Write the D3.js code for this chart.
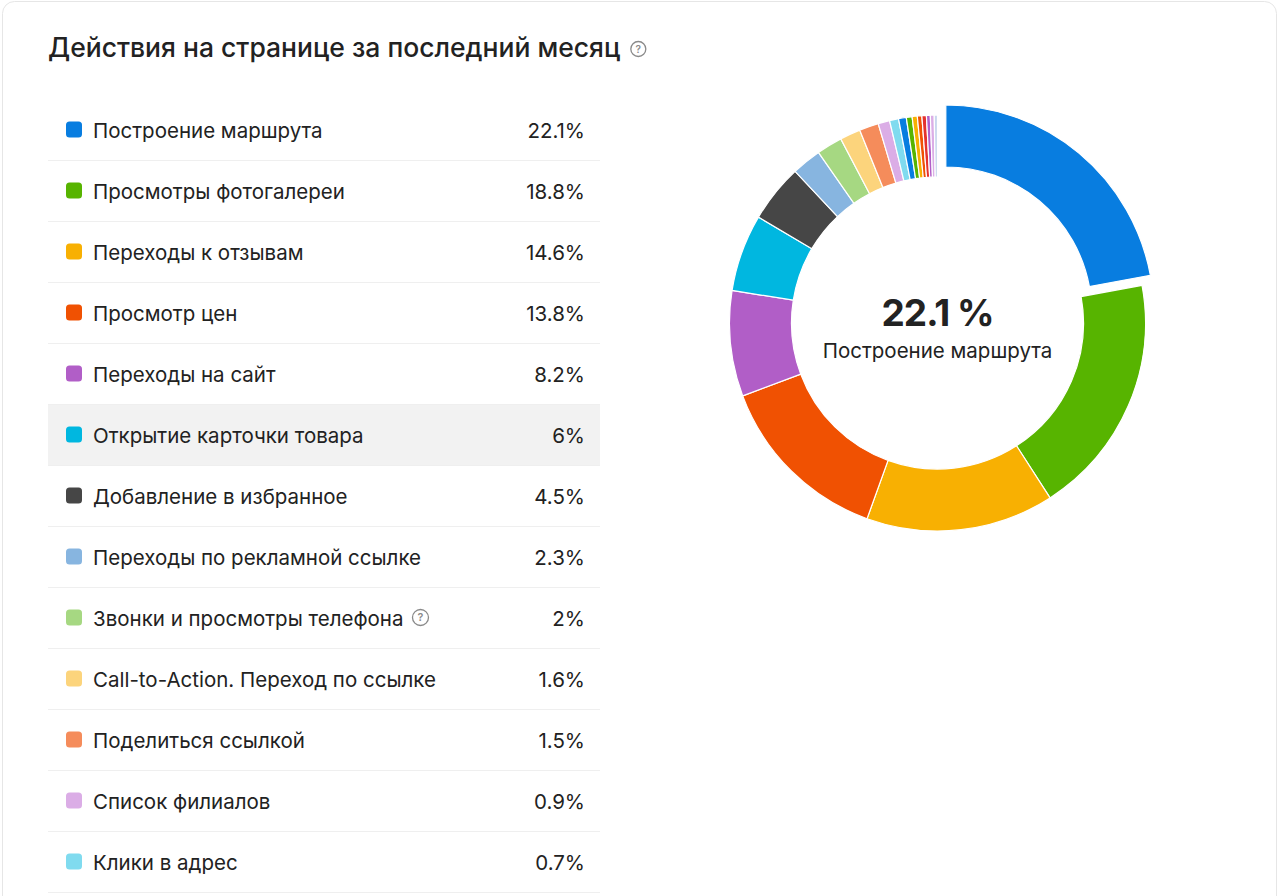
<!DOCTYPE html>
<html>
<head>
<meta charset="utf-8">
<script src="https://cdn.jsdelivr.net/npm/d3@7"></script>
<style>
  html, body { margin: 0; padding: 0; background: #fff; }
  body { font-family: Inter, "Noto Sans", sans-serif; }
  svg text { font-family: Inter, "Noto Sans", sans-serif; }
</style>
</head>
<body>
<div id="chart"></div>
<script>
// data
const labels = [
  "Построение маршрута", "Просмотры фотогалереи", "Переходы к отзывам",
  "Просмотр цен", "Переходы на сайт", "Открытие карточки товара",
  "Добавление в избранное", "Переходы по рекламной ссылке",
  "Звонки и просмотры телефона", "Call-to-Action. Переход по ссылке",
  "Поделиться ссылкой", "Список филиалов", "Клики в адрес",
  // below the visible part of the list
  "Прочее 1", "Прочее 2", "Прочее 3", "Прочее 4", "Прочее 5", "Прочее 6", "Прочее 7", "Прочее 8"
];
const values = [22.1, 18.8, 14.6, 13.8, 8.2, 6, 4.5, 2.3, 2, 1.6, 1.5, 0.9, 0.7,
  0.6, 0.45, 0.4, 0.35, 0.35, 0.3, 0.3, 0.25];
const colors = ["#087de0", "#57b400", "#f8b002", "#f05102", "#b15ec7", "#00b7e0",
  "#464646", "#87b5e0", "#a6d882", "#fcd47c", "#f58c5b", "#dbade6", "#80dbef",
  "#087de0", "#57b400", "#f8b002", "#f05102", "#e5322d", "#b15ec7", "#dbade6", "#c9d6ee"];
const withHint = ["Звонки и просмотры телефона"];
const visibleRows = 13;
const highlighted = 5;
const selected = 0;

const W = 1280, H = 896;
const svg = d3.select("#chart").append("svg")
  .attr("width", W).attr("height", H);

// card
svg.append("rect")
  .attr("x", 2.5).attr("y", 1.5)
  .attr("width", 1274).attr("height", 940)
  .attr("rx", 12)
  .attr("fill", "#fff")
  .attr("stroke", "#e6e6e6");

function hint(g, cx, cy, r) {
  const h = g.append("g").attr("transform", `translate(${cx},${cy})`);
  h.append("circle").attr("r", r).attr("fill", "none")
    .attr("stroke", "#8a8a8a").attr("stroke-width", 1.3);
  h.append("text").attr("text-anchor", "middle").attr("dy", "0.36em")
    .attr("font-size", r * 1.35).attr("font-weight", 600).attr("fill", "#8a8a8a")
    .text("?");
}

// title
const title = svg.append("text")
  .attr("x", 48).attr("y", 57)
  .attr("font-size", 26.5).attr("font-weight", 500).attr("fill", "#222")
  .text("Действия на странице за последний месяц");
const tw = title.node().getComputedTextLength();
hint(svg, 48 + tw + 18, 49, 7.5);

// list
const rowH = 61, listTop = 100, listX = 48, listW = 552;
const fs = 20.5;
const list = svg.append("g");
const rows = list.selectAll("g.row")
  .data(labels.slice(0, visibleRows).map((l, i) => ({ l, v: values[i], c: colors[i], i })))
  .join("g").attr("class", "row")
  .attr("transform", d => `translate(${listX},${listTop + d.i * rowH})`);

rows.append("rect")
  .attr("width", listW).attr("height", rowH)
  .attr("fill", d => d.i === highlighted ? "#f2f2f2" : "#fff");
rows.append("line")
  .attr("x1", 0).attr("x2", listW)
  .attr("y1", rowH - 0.5).attr("y2", rowH - 0.5)
  .attr("stroke", "#efefef");
rows.append("rect")
  .attr("x", 18).attr("y", rowH / 2 - 9)
  .attr("width", 16).attr("height", 16).attr("rx", 3.5)
  .attr("fill", d => d.c);
rows.append("text")
  .attr("class", "lbl")
  .attr("x", 45).attr("y", rowH / 2 + 7.5)
  .attr("font-size", fs).attr("fill", "#222")
  .text(d => d.l);
rows.append("text")
  .attr("x", 537).attr("y", rowH / 2 + 7.5)
  .attr("text-anchor", "end")
  .attr("font-size", fs).attr("fill", "#222")
  .text(d => d.v + "%");
rows.filter(d => withHint.includes(d.l)).each(function () {
  const g = d3.select(this);
  const w = g.select("text.lbl").node().getComputedTextLength();
  hint(g, 45 + w + 17, rowH / 2 - 1, 8);
});

// donut
const cx = 937.5, cy = 323, R = 208, r = 146, pull = 13;
const pie = d3.pie().sort(null).value(d => d);
const arcs = pie(values);
const arc = d3.arc().innerRadius(r).outerRadius(R);
const donut = svg.append("g").attr("transform", `translate(${cx},${cy})`);
donut.selectAll("path")
  .data(arcs)
  .join("path")
  .attr("d", arc)
  .attr("fill", (d, i) => colors[i])
  .attr("stroke", "#fff")
  .attr("stroke-width", 1.2)
  .attr("transform", (d, i) => {
    if (i !== selected) return null;
    const a = (d.startAngle + d.endAngle) / 2;
    return `translate(${pull * Math.sin(a)},${-pull * Math.cos(a)})`;
  });

donut.append("text")
  .attr("text-anchor", "middle").attr("y", 3)
  .attr("font-size", 37).attr("font-weight", 700).attr("fill", "#222")
  .attr("letter-spacing", -1)
  .text(values[selected] + " %");
donut.append("text")
  .attr("text-anchor", "middle").attr("y", 35)
  .attr("font-size", fs).attr("fill", "#222")
  .text(labels[selected]);
</script>
</body>
</html>
